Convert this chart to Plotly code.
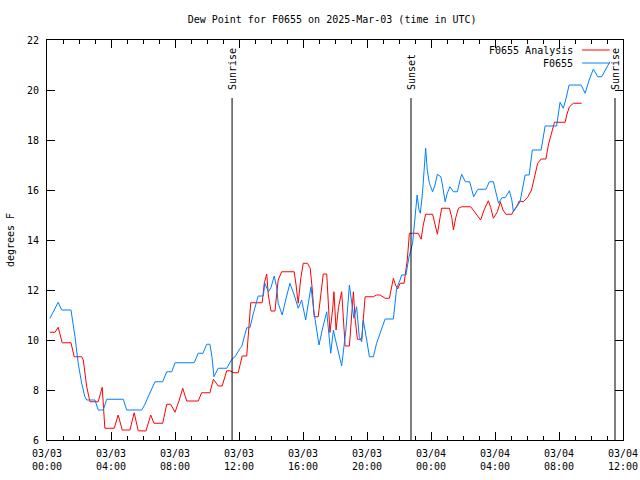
import pandas as pd
import plotly.graph_objects as go

# minutes since 2025-03-03 00:00 UTC
base = pd.Timestamp("2025-03-03 00:00")

obs_min = [11,42,55,90,105,117,130,142,149,180,192,211,224,286,299,355,368,374,405,434,449,468,480,552,567,585,599,611,619,626,642,674,693,705,724,730,749,761,774,786,792,811,817,830,840,852,861,867,882,895,911,927,942,955,970,980,990,1000,1011,1020,1032,1049,1064,1074,1082,1105,1121,1134,1143,1151,1161,1171,1180,1186,1199,1209,1224,1236,1249,1261,1268,1299,1305,1311,1324,1330,1346,1351,1357,1371,1378,1388,1395,1400,1408,1414,1420,1426,1434,1446,1455,1464,1477,1483,1493,1501,1511,1524,1539,1549,1555,1569,1585,1600,1616,1646,1659,1674,1684,1693,1706,1718,1734,1743,1749,1761,1774,1793,1808,1820,1853,1868,1911,1924,1936,1945,1958,2003,2018,2033,2049,2065,2080,2111]
obs_val = [10.87,11.51,11.2,11.2,10.13,9.07,8.27,7.73,7.6,7.6,7.2,7.2,7.63,7.63,7.2,7.2,7.44,7.6,8.33,8.33,8.73,8.73,9.09,9.09,9.47,9.47,9.83,9.83,9.3,8.53,8.87,8.87,9.23,9.33,9.67,9.73,10.49,10.49,11.07,11.53,11.76,11.76,12.27,11.93,12.1,12.56,12.13,11.47,11.0,11.6,12.27,11.8,11.27,11.6,10.8,11.47,12.13,11.2,10.4,9.8,10.4,11.13,9.47,10.4,10.0,8.97,10.4,12.2,11.47,10.87,11.33,10.13,9.93,10.8,10.0,9.33,9.33,9.87,10.27,10.67,10.84,10.84,11.47,12.07,12.4,12.6,12.6,12.93,13.3,13.87,14.7,15.8,15.2,15.07,15.87,16.7,17.67,16.8,16.27,15.93,16.2,16.63,16.53,16.2,15.53,15.87,16.13,15.93,15.93,16.4,16.63,16.33,16.33,15.73,16.03,16.03,16.33,16.33,15.93,15.47,15.69,15.69,15.97,15.6,15.13,15.33,15.53,16.6,16.6,17.6,17.6,18.56,18.56,19.51,19.27,19.6,20.2,20.2,19.87,20.4,20.84,20.53,20.53,21.13]

ana_min = [11,30,42,57,90,102,130,136,149,161,192,202,207,217,252,267,282,311,327,342,371,389,401,434,449,464,480,496,509,524,567,580,611,624,642,657,674,686,701,717,724,732,749,755,764,807,815,824,830,840,855,861,867,880,927,934,942,952,961,977,987,995,1002,1017,1028,1036,1049,1055,1061,1071,1076,1084,1093,1105,1111,1118,1134,1143,1149,1155,1164,1180,1186,1193,1224,1236,1249,1268,1284,1293,1299,1307,1315,1324,1339,1351,1359,1392,1403,1411,1420,1446,1455,1464,1474,1480,1509,1518,1524,1533,1543,1555,1589,1605,1626,1639,1655,1664,1674,1689,1700,1710,1721,1743,1751,1761,1771,1786,1802,1817,1830,1840,1853,1871,1880,1893,1903,1943,1949,1959,1974,2005]
ana_val = [10.31,10.31,10.51,9.89,9.89,9.33,9.33,9.2,8.13,7.53,7.53,7.9,8.11,6.47,6.47,7.0,6.4,6.4,7.09,6.37,6.36,7.0,6.67,6.67,7.43,7.43,7.11,7.6,8.07,7.56,7.56,7.89,7.89,8.43,8.16,8.16,8.77,8.77,8.69,8.69,9.0,9.36,9.36,10.13,11.49,11.49,12.29,12.64,11.8,11.16,11.16,11.8,12.4,12.73,12.73,12.2,11.47,12.5,13.07,13.07,12.87,12.0,10.93,10.93,12.0,12.64,12.64,11.6,10.3,11.2,11.93,10.4,11.3,11.93,10.9,9.76,9.76,11.33,11.93,10.9,10.03,10.03,11.0,11.73,11.73,11.8,11.8,11.67,11.67,12.2,12.47,12.2,12.04,12.27,12.27,13.2,14.27,14.27,14.03,14.6,15.03,15.03,14.6,14.23,14.9,15.27,15.27,14.9,14.4,14.9,15.27,15.33,15.33,15.1,14.8,15.2,15.57,15.3,14.87,15.13,15.53,15.2,15.03,15.03,15.2,15.33,15.56,15.53,15.7,16.0,16.67,17.07,17.24,17.24,17.8,18.33,18.71,18.71,19.0,19.33,19.47,19.47]

event_times = ["2025-03-03 11:34", "2025-03-03 22:45", "2025-03-04 11:30"]
event_labels = ["Sunrise", "Sunset", "Sunrise"]

series_names = ["F0655 Analysis", "F0655"]
series_colors = ["#ff0000", "#0080ff"]

ana_t = base + pd.to_timedelta(ana_min, unit="min")
obs_t = base + pd.to_timedelta(obs_min, unit="min")

FONT = "DejaVu Sans Mono"

fig = go.Figure()
fig.add_trace(go.Scatter(x=ana_t, y=ana_val, mode="lines", name=series_names[0],
                         line=dict(color=series_colors[0], width=1), showlegend=False))
fig.add_trace(go.Scatter(x=obs_t, y=obs_val, mode="lines", name=series_names[1],
                         line=dict(color=series_colors[1], width=1), showlegend=False))

shapes = []
annotations = []
for t, lab in zip(event_times, event_labels):
    shapes.append(dict(type="line", xref="x", yref="paper", x0=t, x1=t, y0=0, y1=0.855,
                       line=dict(color="black", width=1)))
    annotations.append(dict(x=t, xref="x", y=0.87, yref="paper", text=lab, textangle=-90,
                            showarrow=False, xanchor="center", yanchor="bottom",
                            font=dict(family=FONT, size=10, color="black")))

# custom legend (text right, sample line on right)
leg_y = [0.975, 0.9425]
for name, col, yy in zip(series_names, series_colors, leg_y):
    annotations.append(dict(x=0.916, xref="paper", y=yy, yref="paper", text=name,
                            showarrow=False, xanchor="right", yanchor="middle",
                            font=dict(family=FONT, size=10, color="black")))
    shapes.append(dict(type="line", xref="paper", yref="paper", x0=0.929, x1=0.977,
                       y0=yy, y1=yy, line=dict(color=col, width=1)))

fig.update_layout(
    width=640, height=480,
    margin=dict(l=47, r=17, t=40, b=40, autoexpand=False),
    paper_bgcolor="white", plot_bgcolor="white",
    font=dict(family=FONT, size=10, color="black"),
    title=dict(text="Dew Point for F0655 on 2025-Mar-03 (time in UTC)", x=0.519, xanchor="center",
               y=0.96, yanchor="middle", font=dict(family=FONT, size=10)),
    shapes=shapes, annotations=annotations,
    showlegend=False,
)
fig.update_xaxes(
    type="date", range=["2025-03-03 00:00", "2025-03-04 12:00"], automargin=False,
    tick0="2025-03-03 00:00", dtick=4 * 3600000, tickformat="%m/%d<br>%H:%M",
    ticks="inside", ticklen=8, tickcolor="black", showline=True, linecolor="black",
    linewidth=1, mirror="ticks", showgrid=False, zeroline=False, ticklabelstandoff=4,
    minor=dict(dtick=3600000, ticks="inside", ticklen=4, tickcolor="black", showgrid=False),
    tickfont=dict(family=FONT, size=10),
)
fig.update_yaxes(
    range=[6, 22], dtick=2, tick0=6, ticks="inside", ticklen=8, tickcolor="black",
    showline=True, linecolor="black", linewidth=1, mirror="ticks", showgrid=False,
    zeroline=False, tickfont=dict(family=FONT, size=10), automargin=False, ticklabelstandoff=5,
    title=dict(text="degrees F", font=dict(family=FONT, size=10), standoff=10),
)

fig.write_html("out.html", config={"displayModeBar": False},
               post_script="document.body.style.margin='0';document.body.style.overflow='hidden';")
